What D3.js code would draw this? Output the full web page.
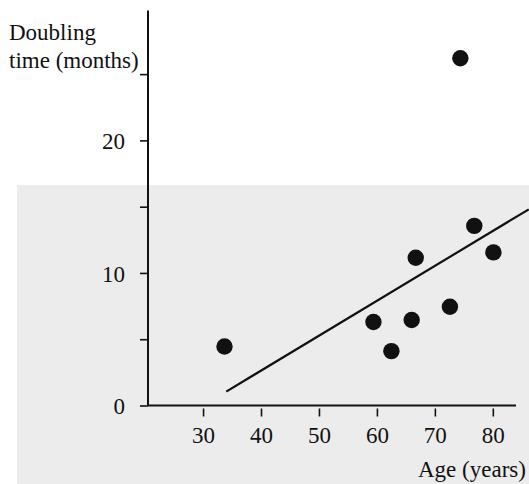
<!DOCTYPE html>
<html>
<head>
<script src="https://cdn.jsdelivr.net/npm/d3@7"></script>
<meta charset="utf-8">
<title>Doubling time vs age</title>
<style>
    body { margin: 0; background: #fff; }
    text { font-family: "Liberation Serif", "Times New Roman", serif; fill: #111; }
</style>
</head>
<body>
<svg width="529" height="484" id="mainsvg"></svg>
<script>
    // values
    const ages = [33.7, 59.4, 62.5, 66.0, 66.7, 72.6, 76.8, 80.1, 74.4];
    const doublingMonths = [4.45, 6.3, 4.1, 6.45, 11.15, 7.45, 13.55, 11.55, 26.2];
    const fitLineAges = [34.0, 86.2];
    const fitLineMonths = [1.05, 14.8];
    const xTicks = [30, 40, 50, 60, 70, 80];
    const yTicks = [0, 5, 10, 15, 20, 25];
    const yTickLabels = ['0', '', '10', '', '20', ''];

    let mainsvg = d3.select('#mainsvg');

    // grey of the scanned page
    mainsvg.append('rect')
        .attr('x', 17).attr('y', 185)
        .attr('width', 512).attr('height', 299)
        .style('fill', '#ececec');

    let x = d3.scaleLinear().domain([20.5, 84]).range([148, 516]);
    let y = d3.scaleLinear().domain([0, 29.8]).range([405.5, 10.5]);

    let xAxis = d3.axisBottom(x).tickValues(xTicks).tickSize(11).tickPadding(10);
    let yAxis = d3.axisLeft(y).tickValues(yTicks)
        .tickFormat((d, i) => yTickLabels[i]).tickSize(8).tickPadding(15);

    let gx = mainsvg.append('g').attr('transform', `translate(0,${y(0)})`).call(xAxis);
    let gy = mainsvg.append('g').attr('transform', `translate(${x(20.5)},0)`).call(yAxis);

    [gx, gy].forEach(g => {
        g.select('.domain').attr('d', null);
        g.selectAll('.tick line').style('stroke', '#111').style('stroke-width', 1.6);
        g.selectAll('.tick text')
            .style('font-size', '23px')
            .style('font-family', '"Liberation Serif", serif')
            .style('fill', '#111');
    });
    gx.selectAll('.tick line').attr('y1', 3);
    gy.selectAll('.tick text').attr('dy', '0.36em');

    // axis lines drawn thicker than the ticks
    mainsvg.append('line')
        .attr('x1', x(20.5)).attr('x2', x(20.5))
        .attr('y1', y(29.8)).attr('y2', y(0))
        .style('stroke', '#111').style('stroke-width', 2);
    mainsvg.append('line')
        .attr('x1', x(20.5)).attr('x2', x(84))
        .attr('y1', y(0)).attr('y2', y(0))
        .style('stroke', '#111').style('stroke-width', 2);

    // fitted line
    mainsvg.append('line')
        .attr('x1', x(fitLineAges[0])).attr('y1', y(fitLineMonths[0]))
        .attr('x2', x(fitLineAges[1])).attr('y2', y(fitLineMonths[1]))
        .style('stroke', '#111').style('stroke-width', 2.2);

    mainsvg.selectAll('circle.mark')
        .data(ages)
        .enter().append('circle')
        .attr('class', 'mark')
        .attr('cx', d => x(d))
        .attr('cy', (d, i) => y(doublingMonths[i]))
        .attr('r', 8.2)
        .style('fill', '#111');

    // titles
    mainsvg.append('text').attr('x', 9).attr('y', 40)
        .style('font-size', '23px').text('Doubling');
    mainsvg.append('text').attr('x', 9).attr('y', 68)
        .style('font-size', '23px').text('time (months)');
    mainsvg.append('text').attr('x', 418).attr('y', 477)
        .style('font-size', '23px').text('Age (years)');
</script>
</body>
</html>
